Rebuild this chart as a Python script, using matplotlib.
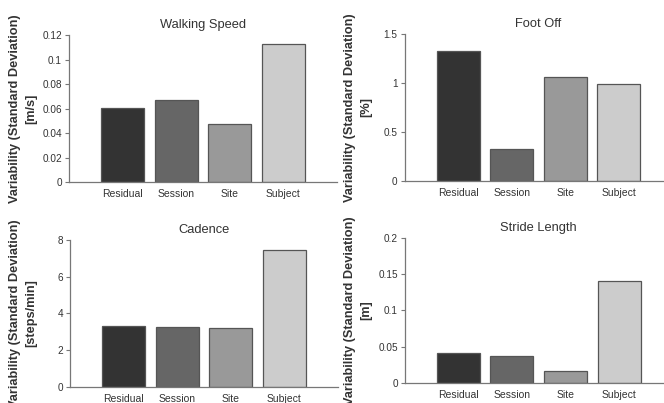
import matplotlib
matplotlib.use('Agg')
import matplotlib.pyplot as plt

plt.rcParams['font.family'] = ['Liberation Sans', 'DejaVu Sans']

categories = ['Residual', 'Session', 'Site', 'Subject']
bar_colors = ['#333333', '#666666', '#999999', '#cccccc']

titles = ['Walking Speed', 'Foot Off', 'Cadence', 'Stride Length']
units = ['[m/s]', '[%]', '[steps/min]', '[m]']

walking_speed = [0.0603, 0.0671, 0.0475, 0.1125]
foot_off = [1.329, 0.324, 1.057, 0.986]
cadence = [3.33, 3.27, 3.20, 7.47]
stride_length = [0.0416, 0.0370, 0.0165, 0.141]

y_limits = [0.12, 1.5, 8, 0.2]
y_ticks = [[0, 0.02, 0.04, 0.06, 0.08, 0.1, 0.12],
           [0, 0.5, 1, 1.5],
           [0, 2, 4, 6, 8],
           [0, 0.05, 0.1, 0.15, 0.2]]
y_ticklabels = [['0', '0.02', '0.04', '0.06', '0.08', '0.1', '0.12'],
                ['0', '0.5', '1', '1.5'],
                ['0', '2', '4', '6', '8'],
                ['0', '0.05', '0.1', '0.15', '0.2']]

series = [walking_speed, foot_off, cadence, stride_length]

# axes boxes in figure fraction: left, bottom, width, height
boxes = [[0.1039, 0.5476, 0.4036, 0.3656],
         [0.6092, 0.5516, 0.4036, 0.3640],
         [0.1054, 0.0404, 0.4036, 0.3641],
         [0.6095, 0.0489, 0.4036, 0.3613]]
label_x = [23, 358, 23, 358]

W, H = 664, 403
fig = plt.figure(figsize=(W / 100, H / 100), dpi=100)

text_col = '#333333'
axis_col = '#777777'

for i in range(4):
    ax = fig.add_axes(boxes[i])
    xs = range(1, len(categories) + 1)
    ax.bar(xs, series[i], width=0.8, color=bar_colors, edgecolor='#555555', linewidth=0.9)
    ax.set_xlim(0, 5)
    ax.set_ylim(0, y_limits[i])
    ax.set_xticks(list(xs))
    ax.set_xticklabels(categories, fontsize=7.5, color=text_col)
    ax.set_yticks(y_ticks[i])
    ax.set_yticklabels(y_ticklabels[i], fontsize=7.2, color=text_col)
    ax.tick_params(axis='x', length=0, pad=5)
    ax.tick_params(axis='y', direction='out', length=3, width=0.8, color=axis_col, pad=2)
    ax.spines['top'].set_visible(False)
    ax.spines['right'].set_visible(False)
    ax.spines['left'].set_color(axis_col)
    ax.spines['bottom'].set_color(axis_col)
    ax.spines['left'].set_linewidth(0.9)
    ax.spines['bottom'].set_linewidth(0.9)
    ax.set_title(titles[i], fontsize=9.3, color=text_col, pad=5)
    b = boxes[i]
    fig.text(label_x[i] / W, b[1] + b[3] / 2,
             'Variability (Standard Deviation)\n' + units[i],
             rotation=90, ha='center', va='center', ma='center',
             fontsize=9.2, fontweight='bold', color=text_col, linespacing=1.5)

fig.savefig('out.png', dpi=100)
